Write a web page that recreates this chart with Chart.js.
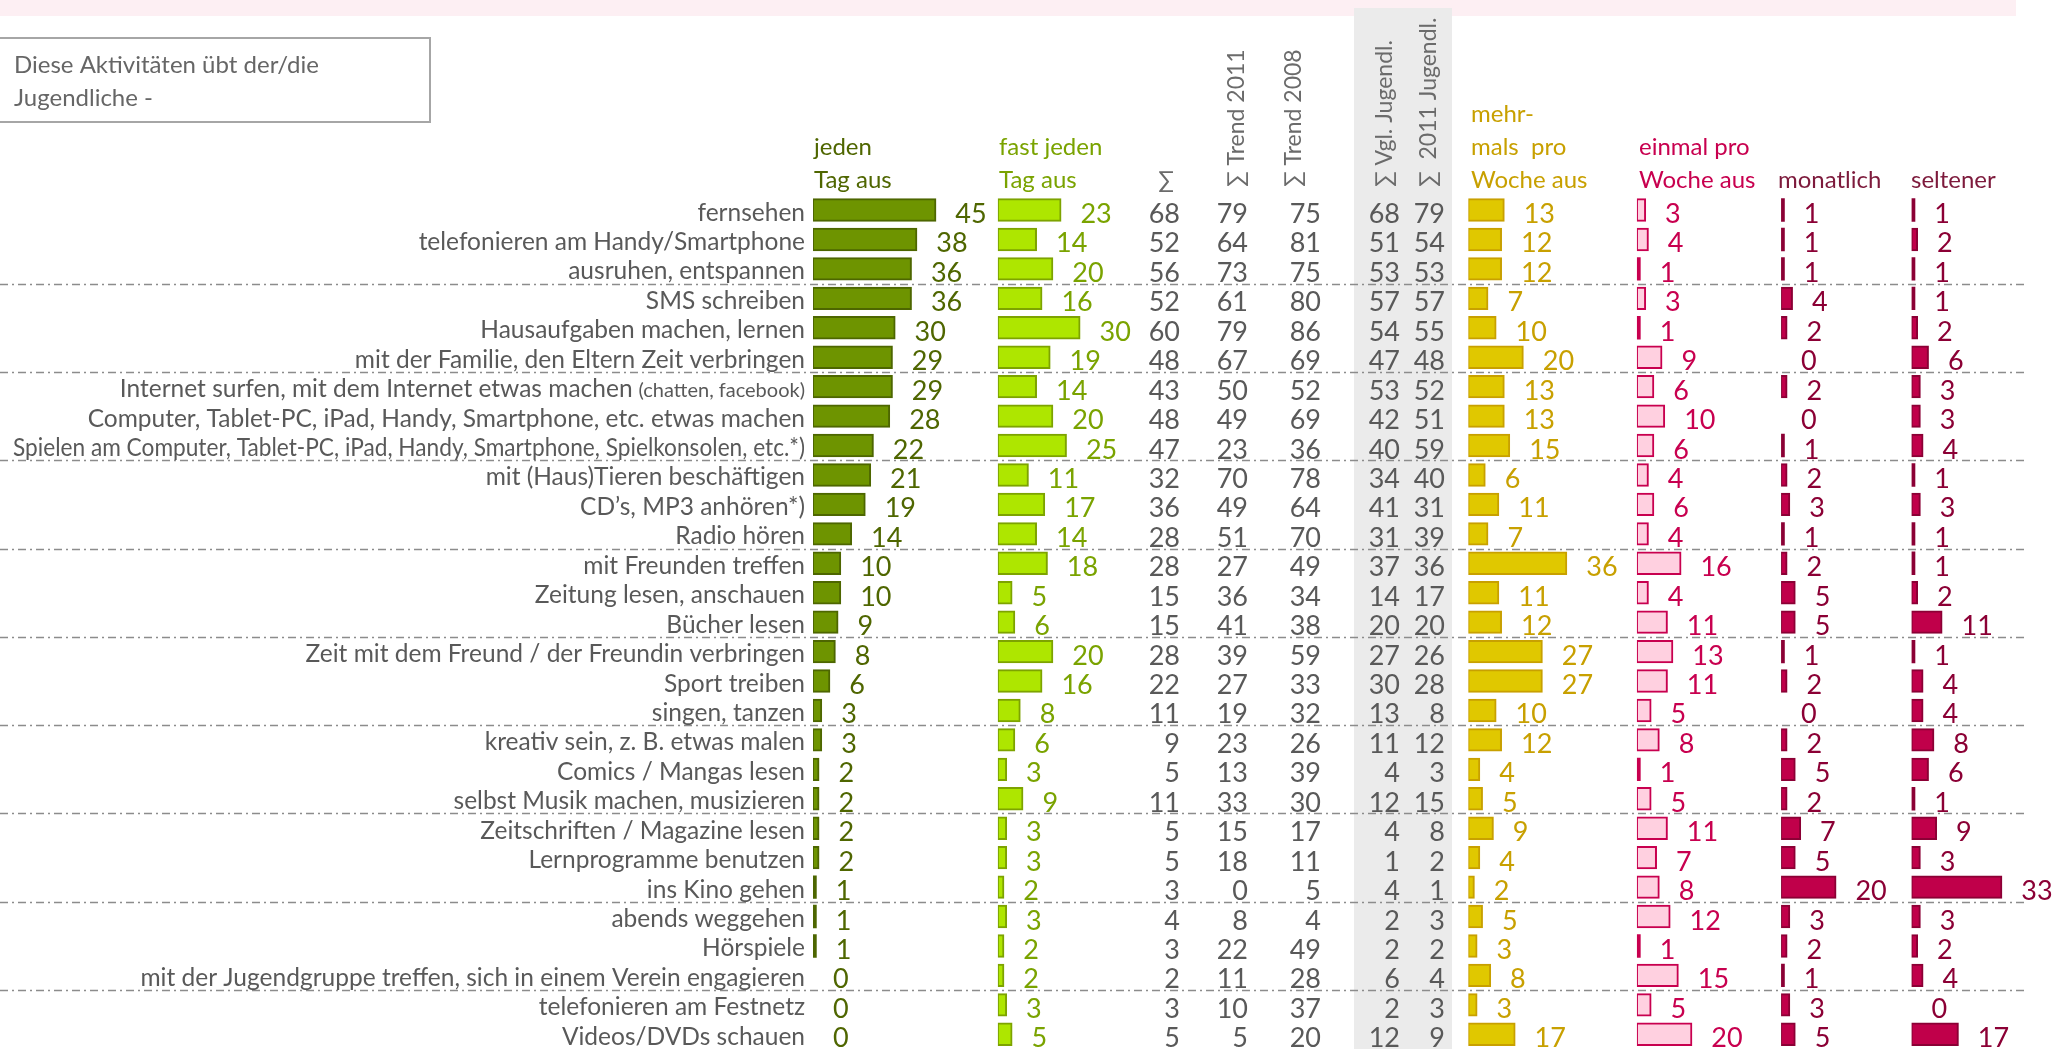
<!DOCTYPE html>
<html>
<head>
<meta charset="utf-8">
<script src="https://cdn.jsdelivr.net/npm/chart.js@4.4.1/dist/chart.umd.min.js"></script>
<style>
  html, body { margin: 0; padding: 0; background: #fff; }
  canvas { display: block; }
</style>
</head>
<body>
<canvas id="grafico" width="2053" height="1049"></canvas>
<script>
const aktivitaeten = [
  'fernsehen',
  'telefonieren am Handy/Smartphone',
  'ausruhen, entspannen',
  'SMS schreiben',
  'Hausaufgaben machen, lernen',
  'mit der Familie, den Eltern Zeit verbringen',
  'Internet surfen, mit dem Internet etwas machen',
  'Computer, Tablet-PC, iPad, Handy, Smartphone, etc. etwas machen',
  'Spielen am Computer, Tablet-PC, iPad, Handy, Smartphone, Spielkonsolen, etc.*)',
  'mit (Haus)Tieren beschäftigen',
  'CD’s, MP3 anhören*)',
  'Radio hören',
  'mit Freunden treffen',
  'Zeitung lesen, anschauen',
  'Bücher lesen',
  'Zeit mit dem Freund / der Freundin verbringen',
  'Sport treiben',
  'singen, tanzen',
  'kreativ sein, z. B. etwas malen',
  'Comics / Mangas lesen',
  'selbst Musik machen, musizieren',
  'Zeitschriften / Magazine lesen',
  'Lernprogramme benutzen',
  'ins Kino gehen',
  'abends weggehen',
  'Hörspiele',
  'mit der Jugendgruppe treffen, sich in einem Verein engagieren',
  'telefonieren am Festnetz',
  'Videos/DVDs schauen'
]
// kleiner gedruckter Zusatz hinter einzelnen Zeilen
const zusaetze = { 6: '(chatten, facebook)' }

const jedenTag    = [45, 38, 36, 36, 30, 29, 29, 28, 22, 21, 19, 14, 10, 10, 9, 8, 6, 3, 3, 2, 2, 2, 2, 1, 1, 1, 0, 0, 0]
const fastJeden   = [23, 14, 20, 16, 30, 19, 14, 20, 25, 11, 17, 14, 18, 5, 6, 20, 16, 8, 6, 3, 9, 3, 3, 2, 3, 2, 2, 3, 5]
const summe       = [68, 52, 56, 52, 60, 48, 43, 48, 47, 32, 36, 28, 28, 15, 15, 28, 22, 11, 9, 5, 11, 5, 5, 3, 4, 3, 2, 3, 5]
const trend2011   = [79, 64, 73, 61, 79, 67, 50, 49, 23, 70, 49, 51, 27, 36, 41, 39, 27, 19, 23, 13, 33, 15, 18, 0, 8, 22, 11, 10, 5]
const trend2008   = [75, 81, 75, 80, 86, 69, 52, 69, 36, 78, 64, 70, 49, 34, 38, 59, 33, 32, 26, 39, 30, 17, 11, 5, 4, 49, 28, 37, 20]
const vglJugendl  = [68, 51, 53, 57, 54, 47, 53, 42, 40, 34, 41, 31, 37, 14, 20, 27, 30, 13, 11, 4, 12, 4, 1, 4, 2, 2, 6, 2, 12]
const jugendl2011 = [79, 54, 53, 57, 55, 48, 52, 51, 59, 40, 31, 39, 36, 17, 20, 26, 28, 8, 12, 3, 15, 8, 2, 1, 3, 2, 4, 3, 9]
const mehrmals    = [13, 12, 12, 7, 10, 20, 13, 13, 15, 6, 11, 7, 36, 11, 12, 27, 27, 10, 12, 4, 5, 9, 4, 2, 5, 3, 8, 3, 17]
const einmal      = [3, 4, 1, 3, 1, 9, 6, 10, 6, 4, 6, 4, 16, 4, 11, 13, 11, 5, 8, 1, 5, 11, 7, 8, 12, 1, 15, 5, 20]
const monatlich   = [1, 1, 1, 4, 2, 0, 2, 0, 1, 2, 3, 1, 2, 5, 5, 1, 2, 0, 2, 5, 2, 7, 5, 20, 3, 2, 1, 3, 5]
const seltener    = [1, 2, 1, 1, 2, 6, 3, 3, 4, 1, 3, 1, 1, 2, 11, 1, 4, 4, 8, 6, 1, 9, 3, 33, 3, 2, 4, 0, 17]

const kopfJeden     = ['jeden', 'Tag aus']
const kopfFastJeden = ['fast jeden', 'Tag aus']
const kopfMehrmals  = ['mehr-', 'mals  pro', 'Woche aus']
const kopfEinmal    = ['einmal pro', 'Woche aus']
const kopfMonatlich = ['monatlich']
const kopfSeltener  = ['seltener']
const kopfSummen    = ['∑ Trend 2011', '∑ Trend 2008', '∑ Vgl. Jugendl.', '∑  2011 Jugendl.']
const kastenText    = ['Diese Aktivitäten übt der/die', 'Jugendliche -']

const schrift = 'Lato, "Open Sans", sans-serif'
const grau = '#595959'

// max = Breite der Spalte in Prozentpunkten, alle Spalten teilen sich einen Massstab
const spalten = [
  { id: 'xJeden', werte: jedenTag, max: 68, fuell: '#6e9400', rand: '#4d6600', text: '#4f6600', kopf: kopfJeden, kopfX: 814 },
  { id: 'xFast', werte: fastJeden, max: 173, fuell: '#aee600', rand: '#7da300', text: '#7aa300', kopf: kopfFastJeden, kopfX: 999 },
  { id: 'xMehr', werte: mehrmals, max: 62, fuell: '#e0c800', rand: '#c8a000', text: '#c8a000', kopf: kopfMehrmals, kopfX: 1471 },
  { id: 'xEinmal', werte: einmal, max: 53, fuell: '#ffd0e0', rand: '#c8004f', text: '#c8004f', kopf: kopfEinmal, kopfX: 1639 },
  { id: 'xMonat', werte: monatlich, max: 48, fuell: '#c0004a', rand: '#8b0035', text: '#8b0035', kopf: kopfMonatlich, kopfX: 1778 },
  { id: 'xSelten', werte: seltener, max: 52, fuell: '#c0004a', rand: '#8b0035', text: '#8b0035', kopf: kopfSeltener, kopfX: 1911 }
]

const zahlenSpalten = [
  { werte: summe, rechts: 1180 },
  { werte: trend2011, rechts: 1248 },
  { werte: trend2008, rechts: 1321 },
  { werte: vglJugendl, rechts: 1400 },
  { werte: jugendl2011, rechts: 1445 }
]
const summenKopfX = [1237, 1294, 1385, 1429]

const skalen = { y: { type: 'category', display: false, offset: true } }
spalten.forEach((s, i) => {
  skalen[s.id] = {
    type: 'linear', axis: 'x', position: 'bottom', display: false,
    min: 0, max: s.max, stack: 'spalten', stackWeight: s.max, weight: i + 1
  }
})

const beschriftung = {
  id: 'beschriftung',
  beforeDraw(chart) {
    const ctx = chart.ctx
    ctx.save()
    ctx.fillStyle = '#fff'
    ctx.fillRect(0, 0, chart.width, chart.height)
    ctx.fillStyle = '#fdeff3'
    ctx.fillRect(0, 0, 2016, 16)
    ctx.fillStyle = '#ebebeb'
    ctx.fillRect(1354, 8, 98, chart.height - 8)

    ctx.strokeStyle = '#a6a6a6'
    ctx.lineWidth = 2
    ctx.strokeRect(-1, 38, 431, 84)
    ctx.fillStyle = '#666'
    ctx.font = '24px ' + schrift
    ctx.textAlign = 'left'
    ctx.fillText(kastenText[0], 14, 73)
    ctx.fillText(kastenText[1], 14, 106)
    ctx.restore()
  },
  afterDatasetsDraw(chart) {
    const ctx = chart.ctx
    const y = chart.scales.y
    ctx.save()

    // Trennlinien nach jeder dritten Zeile
    ctx.strokeStyle = '#8c8c8c'
    ctx.lineWidth = 1.6
    ctx.setLineDash([8, 4, 2, 4])
    for (let i = 2; i < aktivitaeten.length - 1; i += 3) {
      const yy = Math.round((y.getPixelForValue(i) + y.getPixelForValue(i + 1)) / 2) + 0.5
      ctx.beginPath()
      ctx.moveTo(0, yy)
      ctx.lineTo(2025, yy)
      ctx.stroke()
    }
    ctx.setLineDash([])

    // Zeilenbeschriftungen
    ctx.fillStyle = grau
    ctx.textAlign = 'right'
    aktivitaeten.forEach((name, i) => {
      const yy = y.getPixelForValue(i) + 10.5
      let x = 805
      if (zusaetze[i]) {
        ctx.font = '20px ' + schrift
        ctx.fillText(zusaetze[i], x, yy)
        x -= ctx.measureText(zusaetze[i]).width + 6
      }
      ctx.font = '24.5px ' + schrift
      ctx.fillText(name, x, yy, x - 13)
    })

    // Werte hinter den Balken
    ctx.font = '27px ' + schrift
    ctx.textAlign = 'left'
    chart.data.datasets.forEach((ds, d) => {
      ctx.fillStyle = spalten[d].text
      chart.getDatasetMeta(d).data.forEach((bar, i) => {
        ctx.fillText(String(ds.data[i]), bar.x + 20, bar.y + 13)
      })
    })

    // Summen- und Trendspalten
    ctx.fillStyle = grau
    ctx.textAlign = 'right'
    zahlenSpalten.forEach(sp => {
      sp.werte.forEach((w, i) => ctx.fillText(String(w), sp.rechts, y.getPixelForValue(i) + 13))
    })

    // Spaltenkoepfe
    ctx.font = '24px ' + schrift
    ctx.textAlign = 'left'
    spalten.forEach(s => {
      ctx.fillStyle = s.text === '#8b0035' ? '#7d1a3c' : s.text
      s.kopf.forEach((zeile, k) => {
        ctx.fillText(zeile, s.kopfX, 188 - (s.kopf.length - 1 - k) * 33)
      })
    })
    ctx.font = '23px ' + schrift
    ctx.fillStyle = '#6b6b6b'
    ctx.textAlign = 'center'
    ctx.fillText('∑', 1166, 188)
    ctx.textAlign = 'left'
    ctx.textBaseline = 'middle'
    kopfSummen.forEach((t, k) => {
      ctx.save()
      ctx.translate(summenKopfX[k], 187)
      ctx.rotate(-Math.PI / 2)
      ctx.fillText(t, 0, 0)
      ctx.restore()
    })
    ctx.restore()
  }
}

new Chart(document.getElementById('grafico'), {
  type: 'bar',
  data: {
    labels: aktivitaeten,
    datasets: spalten.map(s => ({
      label: s.kopf.join(' '),
      data: s.werte,
      xAxisID: s.id,
      yAxisID: 'y',
      // ganz schmale Balken bestehen nur aus Rand
      backgroundColor: c => (c.raw <= 1 ? s.rand : s.fuell),
      borderColor: s.rand,
      borderWidth: c => (c.raw <= 1 ? 0 : 2),
      inflateAmount: c => (c.raw === 0 ? 0 : 1),
      borderSkipped: false,
      grouped: false,
      barPercentage: 0.727,
      categoryPercentage: 1
    }))
  },
  options: {
    indexAxis: 'y',
    responsive: false,
    animation: false,
    devicePixelRatio: 1,
    layout: { padding: { left: 813, right: 0, top: 195.3, bottom: 0 } },
    scales: skalen,
    plugins: { legend: { display: false }, tooltip: { enabled: false } }
  },
  plugins: [beschriftung]
})
</script>
</body>
</html>
